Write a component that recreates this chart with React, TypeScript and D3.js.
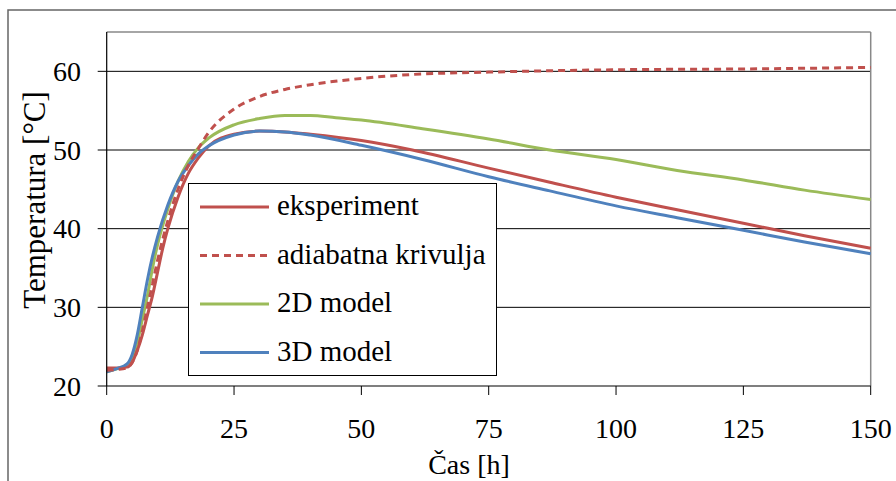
import React from "react";
import * as d3 from "d3";

const tExp = [0, 2, 4, 5, 6, 7, 8, 9, 10, 11, 12, 14, 16, 18, 20, 25, 30, 35, 40, 50, 60, 75, 87, 100, 112, 125, 137, 150];
const vExp = [22.3, 22.3, 22.4, 23, 24.5, 26.5, 29, 31.5, 34.5, 37.5, 40, 44, 47, 49, 50.5, 52, 52.4, 52.3, 52.0, 51.2, 50.0, 47.7, 45.9, 44.0, 42.4, 40.7, 39.1, 37.5];
const tAdi = [0, 2, 4, 5, 6, 7, 8, 9, 10, 12, 14, 16, 18, 20, 25, 30, 35, 40, 50, 60, 75, 100, 125, 150];
const vAdi = [22.0, 22.1, 22.3, 23, 24.5, 27, 30, 33, 36, 41, 45, 48, 50.2, 52.2, 55.2, 56.8, 57.7, 58.3, 59.1, 59.6, 59.9, 60.2, 60.3, 60.5];
const t2D = [0, 2, 4, 5, 6, 7, 8, 9, 10, 12, 14, 16, 18, 20, 25, 30, 35, 40, 45, 50, 62, 75, 87, 100, 112, 125, 137, 150];
const v2D = [21.8, 22.2, 22.6, 23.5, 25.5, 28.5, 31.5, 35, 38, 42.5, 46, 48.5, 50.3, 51.5, 53.2, 54.0, 54.4, 54.4, 54.1, 53.8, 52.7, 51.4, 50.0, 48.8, 47.4, 46.2, 44.9, 43.7];
const t3D = [0, 2, 4, 5, 6, 7, 8, 9, 10, 12, 14, 16, 18, 20, 25, 30, 35, 40, 50, 62, 75, 87, 100, 112, 125, 137, 150];
const v3D = [21.8, 22.2, 22.8, 24, 26.5, 30, 33.5, 36.5, 39, 43, 46, 48, 49.5, 50.5, 51.9, 52.4, 52.3, 51.9, 50.6, 48.8, 46.6, 44.8, 42.9, 41.4, 39.8, 38.3, 36.8];

const xTicks = [0, 25, 50, 75, 100, 125, 150];
const yTicks = [20, 30, 40, 50, 60];

const series = [
  { name: "eksperiment", t: tExp, v: vExp, color: "#C0504D", dash: "" },
  { name: "adiabatna krivulja", t: tAdi, v: vAdi, color: "#C0504D", dash: "7,5" },
  { name: "2D model", t: t2D, v: v2D, color: "#9BBB59", dash: "" },
  { name: "3D model", t: t3D, v: v3D, color: "#4F81BD", dash: "" },
];

const font = "Liberation Serif, DejaVu Serif, serif";
const txt: React.CSSProperties = { fontFamily: font };

export default function App() {
  const left = 106.7, right = 870.7, top = 32, bottom = 386;
  const x = d3.scaleLinear().domain([0, 150]).range([left, right]);
  const y = d3.scaleLinear().domain([20, 65]).range([bottom, top]);
  const drawOrder = [2, 0, 3, 1];
  return (
    <svg width={896} height={481} style={{ position: "absolute", left: 0, top: 0, background: "#fff" }}>
      <rect x={8} y={10} width={900} height={500} fill="#fff" stroke="#666" strokeWidth={1.5} />
      {yTicks.filter((d) => d > 20).map((d) => (
        <line key={d} x1={left} x2={right} y1={y(d)} y2={y(d)} stroke="#000" strokeWidth={1} />
      ))}
      <line x1={left} x2={right} y1={top} y2={top} stroke="#888" strokeWidth={1.5} />
      <line x1={right} x2={right} y1={top} y2={bottom} stroke="#888" strokeWidth={1.5} />
      {drawOrder.map((i) => {
        const s = series[i];
        const line = d3
          .line<number>()
          .x((_, j) => x(s.t[j]))
          .y((d) => y(d))
          .curve(d3.curveMonotoneX);
        return (
          <path key={s.name} d={line(s.v) || ""} fill="none" stroke={s.color} strokeWidth={3} strokeDasharray={s.dash} />
        );
      })}
      <line x1={left} x2={left} y1={top} y2={bottom} stroke="#000" strokeWidth={1.2} />
      <line x1={left} x2={right} y1={bottom} y2={bottom} stroke="#000" strokeWidth={1.2} />
      {yTicks.map((d) => (
        <g key={d}>
          <line x1={left - 9} x2={left} y1={y(d)} y2={y(d)} stroke="#000" strokeWidth={1} />
          <text x={81} y={y(d) + 9.5} textAnchor="end" style={txt} fontSize={28} fill="#000">{d}</text>
        </g>
      ))}
      {xTicks.map((d) => (
        <g key={d}>
          <line x1={x(d)} x2={x(d)} y1={bottom} y2={bottom + 9} stroke="#000" strokeWidth={1} />
          <text x={x(d)} y={438} textAnchor="middle" style={txt} fontSize={28} fill="#000">{d}</text>
        </g>
      ))}
      <text transform="translate(45,200) rotate(-90)" textAnchor="middle" style={txt} fontSize={31} fill="#000">Temperatura [°C]</text>
      <text x={469} y={474} textAnchor="middle" style={txt} fontSize={28} fill="#000">Čas [h]</text>
      <rect x={188.5} y={183.5} width={308} height={192} fill="#fff" stroke="#000" strokeWidth={1} />
      {series.map((s, i) => {
        const ly = 207 + i * 48.5;
        return (
          <g key={s.name}>
            <line x1={200} x2={269} y1={ly} y2={ly} stroke={s.color} strokeWidth={3} strokeDasharray={s.dash} />
            <text x={277} y={ly + 8} style={txt} fontSize={29} fill="#000">{s.name}</text>
          </g>
        );
      })}
    </svg>
  );
}
